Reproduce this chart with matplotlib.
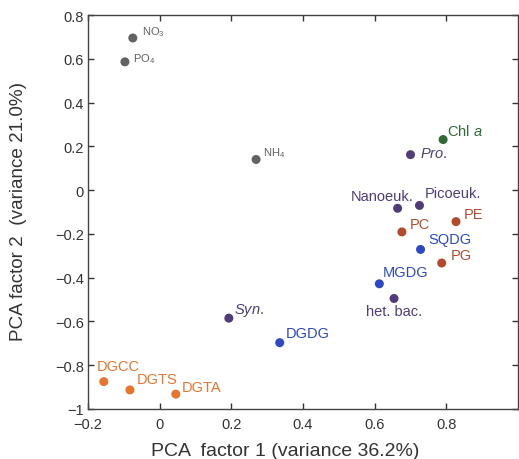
import matplotlib
matplotlib.use("Agg")
import matplotlib.pyplot as plt

plt.rcParams['font.family'] = ['Liberation Sans', 'DejaVu Sans']
plt.rcParams['mathtext.fontset'] = 'custom'
plt.rcParams['mathtext.rm'] = 'Liberation Sans'
plt.rcParams['mathtext.it'] = 'Liberation Sans:italic'

# Data
names = ["NO3", "PO4", "NH4", "Chl a", "Pro.", "Nanoeuk.", "Picoeuk.", "PE", "PC",
         "SQDG", "PG", "MGDG", "het. bac.", "Syn.", "DGDG", "DGCC", "DGTS", "DGTA"]
labels = [r"NO$_3$", r"PO$_4$", r"NH$_4$", r"Chl $\it{a}$", r"$\it{Pro.}$", "Nanoeuk.",
          "Picoeuk.", "PE", "PC", "SQDG", "PG", "MGDG", "het. bac.", r"$\it{Syn.}$",
          "DGDG", "DGCC", "DGTS", "DGTA"]
pc1 = [-0.075, -0.097, 0.269, 0.791, 0.700, 0.664, 0.725, 0.827, 0.676,
       0.728, 0.787, 0.613, 0.654, 0.193, 0.335, -0.156, -0.083, 0.045]
pc2 = [0.695, 0.586, 0.140, 0.231, 0.162, -0.083, -0.070, -0.144, -0.191,
       -0.271, -0.333, -0.428, -0.495, -0.585, -0.697, -0.875, -0.913, -0.932]
groups = ["nut", "nut", "nut", "chl", "cell", "cell", "cell", "phos", "phos",
          "glyc", "phos", "glyc", "cell", "cell", "glyc", "betaine", "betaine", "betaine"]

colors = {"nut": "#626262", "chl": "#2f6a35", "cell": "#4f3c78",
          "phos": "#b34a2c", "glyc": "#2c48c4", "betaine": "#e8742e"}
# label offsets (pixels) and alignment
offsets = [(9, 7, 'left'), (8, 4, 'left'), (7, 7, 'left'), (4, 9, 'left'), (9, 2, 'left'),
           (-15, 12, 'center'), (5, 12, 'left'), (8, 8, 'left'), (8, 8, 'left'),
           (8, 10, 'left'), (9, 8, 'left'), (3, 12, 'left'), (0, -13, 'center'),
           (5, 9, 'left'), (6, 10, 'left'), (-7, 16, 'left'), (7, 11, 'left'), (6, 7, 'left')]
fsizes = {"nut": 8, "chl": 10.5, "cell": 10.5, "phos": 10.5, "glyc": 10.5, "betaine": 10.5}

fig = plt.figure(figsize=(5.19, 4.60), dpi=100)
ax = fig.add_axes([0.1696, 0.1087, 0.8285, 0.8565])

for x, y, lab, g, (dx, dy, ha) in zip(pc1, pc2, labels, groups, offsets):
    c = colors[g]
    ax.scatter(x, y, s=42, color=c, edgecolors='none', zorder=3)
    ax.annotate(lab, (x, y), xytext=(dx, dy), textcoords='offset pixels',
                ha=ha, va='center', color=c, fontsize=fsizes[g])

ax.set_xlim(-0.2, 1.0)
ax.set_ylim(-1.0, 0.8)
ax.set_xticks([-0.2, 0, 0.2, 0.4, 0.6, 0.8])
ax.set_xticklabels(["\u22120.2", "0", "0.2", "0.4", "0.6", "0.8"])
ax.set_yticks([-1, -0.8, -0.6, -0.4, -0.2, 0, 0.2, 0.4, 0.6, 0.8])
ax.set_yticklabels(["\u22121", "\u22120.8", "\u22120.6", "\u22120.4", "\u22120.2",
                    "0", "0.2", "0.4", "0.6", "0.8"])
ax.tick_params(direction='in', top=True, right=True, length=4, width=1,
               labelsize=10.5, colors='#333333', pad=3)
ax.tick_params(axis='x', pad=6)
for s in ax.spines.values():
    s.set_color('#444444')
    s.set_linewidth(1)

ax.set_xlabel("PCA  factor 1 (variance 36.2%)", fontsize=14, color='#333333')
ax.set_ylabel("PCA factor 2  (variance 21.0%)", fontsize=13.6, color='#333333')
ax.xaxis.set_label_coords(0.458, -0.085)
ax.yaxis.set_label_coords(-0.142, 0.505)

fig.savefig("out.png", dpi=100)
